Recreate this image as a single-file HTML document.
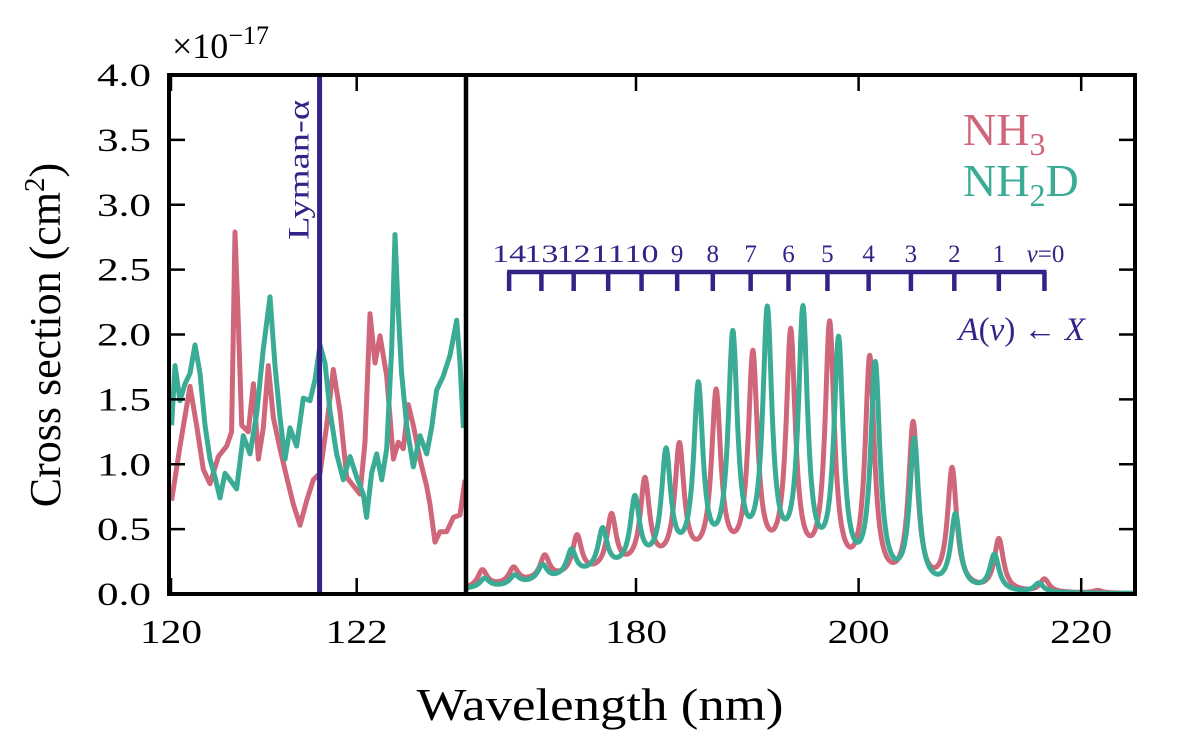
<!DOCTYPE html>
<html><head><meta charset="utf-8"><style>
body{margin:0;background:#fff;width:1200px;height:745px;overflow:hidden}
svg{display:block}
text{font-family:"Liberation Serif",serif;fill:#000}
</style></head><body>
<svg id="c" width="1200" height="745"></svg>
<script>
// ---- data ----
const yTicks=[0,0.5,1,1.5,2,2.5,3,3.5,4];
const yTickLabels=["0.0","0.5","1.0","1.5","2.0","2.5","3.0","3.5","4.0"];
const leftXTicks=[120,122];
const rightXTicks=[180,200,220];
const lymanAlpha=121.6;
// left panel NH3
const nh3LeftX=[120.007,120.097,120.205,120.276,120.348,120.42,120.51,120.6,120.653,120.689,120.725,120.761,120.833,120.887,120.941,120.994,121.048,121.102,121.174,121.246,121.318,121.389,121.461,121.533,121.605,121.677,121.748,121.82,121.892,121.946,122.036,122.089,122.143,122.197,122.251,122.323,122.395,122.448,122.502,122.556,122.61,122.682,122.754,122.789,122.843,122.897,122.969,123.041,123.113,123.166];
const nh3LeftY=[0.72,1.14,1.60,1.30,0.96,0.85,1.06,1.14,1.25,2.79,2.10,1.30,1.25,1.62,1.04,1.28,1.76,1.36,1.12,0.90,0.69,0.53,0.72,0.88,0.93,1.30,1.73,1.41,0.90,0.85,0.77,1.17,2.16,1.78,1.99,1.68,1.04,1.17,1.12,1.46,1.30,1.04,0.83,0.69,0.40,0.48,0.48,0.59,0.61,0.88];
// left panel NH2D
const nh2dLeftX=[120.007,120.043,120.097,120.151,120.205,120.258,120.312,120.366,120.42,120.474,120.528,120.582,120.635,120.707,120.779,120.851,120.923,120.994,121.066,121.12,121.174,121.228,121.282,121.353,121.425,121.497,121.551,121.605,121.659,121.712,121.784,121.856,121.928,122.0,122.071,122.107,122.161,122.215,122.269,122.323,122.377,122.412,122.448,122.484,122.538,122.61,122.682,122.754,122.807,122.861,122.933,123.005,123.077,123.113,123.149];
const nh2dLeftY=[1.30,1.76,1.49,1.62,1.70,1.92,1.70,1.30,1.04,0.90,0.74,0.93,0.88,0.81,1.22,1.08,1.39,1.89,2.29,1.76,1.36,1.04,1.28,1.14,1.51,1.49,1.65,1.92,1.78,1.41,1.08,0.88,1.06,0.90,0.77,0.59,0.93,1.08,0.88,1.12,1.89,2.77,2.17,1.70,1.30,0.98,1.22,1.08,1.28,1.57,1.68,1.84,2.11,1.78,1.28];
// right panel: vibronic band peaks
const nh3PeakPos=[166.2,169.0,171.8,174.7,177.8,180.8,183.9,187.2,190.5,193.9,197.4,201.0,204.9,208.4,212.6,216.7,221.5];
const nh3PeakHeight=[0.13,0.12,0.18,0.3,0.42,0.66,0.9,1.3,1.6,1.8,1.92,1.72,1.25,0.92,0.4,0.1,0.02];
const nh2dPeakPos=[166.4,169.1,171.6,174.2,177.0,179.9,182.7,185.6,188.7,191.8,195.0,198.2,201.5,205.0,208.7,212.2,216.2];
const nh2dPeakHeight=[0.07,0.07,0.12,0.2,0.32,0.52,0.85,1.34,1.72,1.9,1.95,1.78,1.66,1.12,0.57,0.28,0.07];
const bgX=[164,168,172,176,180,184,188,192,196,200,204,208,212,216,225];
const nh3Bg=[0.03,0.06,0.1,0.14,0.18,0.2,0.2,0.18,0.12,0.05,0.02,0.01,0,0,0];
const nh2dBg=[0.03,0.05,0.09,0.14,0.18,0.2,0.2,0.2,0.14,0.06,0.02,0.01,0,0,0];
const vLabels=["14","13","12","11","10","9","8","7","6","5","4","3","2","1","v=0"];
const vPos=[168.6,171.5,174.4,177.5,180.5,183.7,186.9,190.3,193.7,197.2,200.9,204.7,208.6,212.6,216.7];

// ---- scales ----
const Y0=594,YS=129.75;
const y=v=>Y0-v*YS;
const xl=l=>171+(l-120)*92.85;
const xr=l=>636+(l-180)*11.13;
const NS="http://www.w3.org/2000/svg";
const svg=document.getElementById('c');
function el(t,a,p){const e=document.createElementNS(NS,t);for(const k in a)e.setAttribute(k,a[k]);(p||svg).appendChild(e);return e;}
function txt(s,a){const e=el('text',a);e.textContent=s;return e;}
const RED="#cf6679",TEAL="#3aab94",NAVY="#332288";
function interp(xs,ys,x){if(x<=xs[0])return ys[0];for(let i=1;i<xs.length;i++){if(x<=xs[i]){const t=(x-xs[i-1])/(xs[i]-xs[i-1]);return ys[i-1]+t*(ys[i]-ys[i-1]);}}return ys[ys.length-1];}
function band(l,pos,h,bgY){let s=interp(bgX,bgY,l);const g=0.5;for(let i=0;i<pos.length;i++){const d=l-pos[i];s+=h[i]*g*g/(d*d+g*g);}return s;}

const defs=el('defs',{});
const c1=el('clipPath',{id:'cl'},defs);el('rect',{x:169,y:75,width:296,height:519},c1);
const c2=el('clipPath',{id:'cr'},defs);el('rect',{x:467,y:75,width:668,height:519},c2);

function poly(xs,ys,fx,col,clip,name){let d='';for(let i=0;i<xs.length;i++)d+=(i?'L':'M')+fx(xs[i]).toFixed(1)+','+y(ys[i]).toFixed(1);
const p=el('path',{d:d,fill:'none',stroke:col,'stroke-width':5,'stroke-linejoin':'round','clip-path':'url(#'+clip+')'});

}
poly(nh3LeftX,nh3LeftY,xl,RED,'cl','nh3-line-left');
poly(nh2dLeftX,nh2dLeftY,xl,TEAL,'cl','nh2d-line-left');
const ly=el('line',{x1:xl(lymanAlpha),x2:xl(lymanAlpha),y1:75,y2:594,stroke:NAVY,'stroke-width':5});


const lt=txt('Lyman-α',{x:0,y:0,transform:`translate(${xl(lymanAlpha)-11},170) rotate(-90)`,'text-anchor':'middle','font-size':30,textLength:140,lengthAdjust:'spacingAndGlyphs',style:'fill:'+NAVY});



function bandPath(pos,h,bg,col,name){const xs=[],ys=[];for(let l=164.5;l<=225.5;l+=0.05){xs.push(l);ys.push(band(l,pos,h,bg));}poly(xs,ys,xr,col,'cr',name);}
bandPath(nh3PeakPos,nh3PeakHeight,nh3Bg,RED,'nh3-line-right');
bandPath(nh2dPeakPos,nh2dPeakHeight,nh2dBg,TEAL,'nh2d-line-right');

const fr=el('rect',{x:169,y:75,width:966,height:519,fill:'none',stroke:'#000','stroke-width':4});


const sp=el('line',{x1:466,x2:466,y1:75,y2:594,stroke:'#000','stroke-width':4.5});



yTicks.forEach((v,i)=>{
 el('line',{x1:169,x2:185,y1:y(v),y2:y(v),stroke:'#000','stroke-width':2.5});
 el('line',{x1:1119,x2:1135,y1:y(v),y2:y(v),stroke:'#000','stroke-width':2.5});
 const t=txt(yTickLabels[i],{x:151,y:y(v)+11,'text-anchor':'end','font-size':33,textLength:54,lengthAdjust:'spacingAndGlyphs'});
 
 
});
function xlab(s,x){const t=txt(s,{x:x,y:643,'text-anchor':'middle','font-size':34,textLength:62,lengthAdjust:'spacingAndGlyphs'});
 
 }
leftXTicks.forEach(v=>{
 el('line',{x1:xl(v),x2:xl(v),y1:594,y2:578,stroke:'#000','stroke-width':2.5});
 el('line',{x1:xl(v),x2:xl(v),y1:75,y2:91,stroke:'#000','stroke-width':2.5});
 xlab(String(v),xl(v));
});
rightXTicks.forEach(v=>{
 el('line',{x1:xr(v),x2:xr(v),y1:594,y2:578,stroke:'#000','stroke-width':2.5});
 el('line',{x1:xr(v),x2:xr(v),y1:75,y2:91,stroke:'#000','stroke-width':2.5});
 xlab(String(v),xr(v));
});

const vb=el('g',{});


el('line',{x1:xr(vPos[0])-2,x2:xr(vPos[vPos.length-1])+2,y1:272,y2:272,stroke:NAVY,'stroke-width':4.5},vb);
vPos.forEach((p,i)=>{
 el('line',{x1:xr(p),x2:xr(p),y1:272,y2:291,stroke:NAVY,'stroke-width':4.5},vb);
 const last=i===vPos.length-1;
 const t=el('text',{x:xr(p)+(last?1:0),y:262,'text-anchor':'middle','font-size':25,style:'fill:'+NAVY},vb);
 if(last){t.innerHTML='<tspan font-style="italic">v</tspan>=0';}else t.textContent=vLabels[i];
 if(i<5){t.setAttribute('textLength',34);t.setAttribute('lengthAdjust','spacingAndGlyphs');}
 
 
});
const ax=el('text',{x:1085,y:340,'text-anchor':'end','font-size':33,style:'fill:'+NAVY});
ax.innerHTML='<tspan font-style="italic">A</tspan>(<tspan font-style="italic">v</tspan>) ← <tspan font-style="italic">X</tspan>';



const l1=el('text',{x:963,y:145,'font-size':46,style:'fill:'+RED});
l1.innerHTML='NH<tspan font-size="32" dy="10">3</tspan>';


const l2=el('text',{x:963,y:196,'font-size':46,style:'fill:'+TEAL});
l2.innerHTML='NH<tspan font-size="32" dy="10">2</tspan><tspan dy="-10">D</tspan>';



const yt=el('text',{x:0,y:0,transform:'translate(60,335) rotate(-90)','text-anchor':'middle','font-size':44});
yt.innerHTML='Cross section (cm<tspan font-size="29" dy="-16">2</tspan><tspan dy="16">)</tspan>';


const xt=txt('Wavelength (nm)',{x:600,y:720,'text-anchor':'middle','font-size':46,textLength:367,lengthAdjust:'spacingAndGlyphs'});


const ex=el('text',{x:172,y:58,'font-size':36});
ex.innerHTML='×10<tspan font-size="26" dy="-14">−17</tspan>';


</script>
</body></html>
